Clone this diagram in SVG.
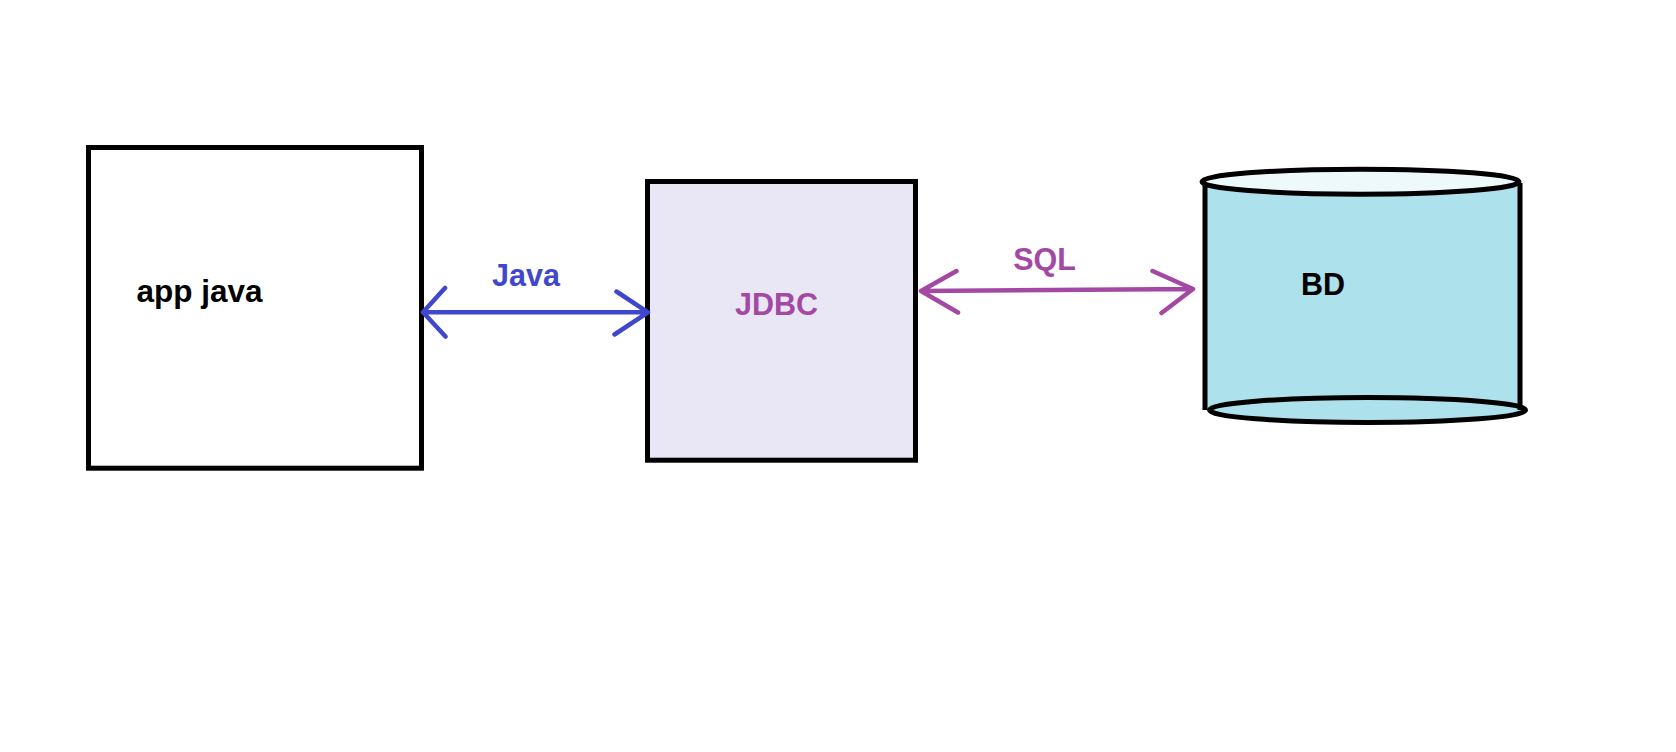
<svg xmlns="http://www.w3.org/2000/svg" width="1676" height="752" viewBox="0 0 1676 752">
<style>
.box{stroke:#000;stroke-width:5}
.lbl{font-family:"Liberation Sans",Arial,sans-serif;font-weight:bold;font-size:30.5px}
.java{stroke:#3F48CC;stroke-width:4.5;fill:none;stroke-linecap:round;stroke-linejoin:round}
.sql{stroke:#A349A4;stroke-width:4.5;fill:none;stroke-linecap:round;stroke-linejoin:round}
</style>
<rect width="1676" height="752" fill="#fff"/>
<g id="app">
<rect class="box" x="88.5" y="147.5" width="333" height="320.7" fill="#fff"/>
<text class="lbl" x="136.5" y="301.5" style="font-size:31.5px" fill="#000">app java</text>
</g>
<g id="jdbc">
<rect class="box" x="647.5" y="181.5" width="268" height="278.7" fill="#E9E7F6"/>
<text class="lbl" x="776.5" y="315" text-anchor="middle" fill="#A349A4">JDBC</text>
</g>
<g id="bd">
<rect x="1205" y="182" width="315" height="228" fill="#ADE1EC"/>
<ellipse class="box" cx="1367.5" cy="410" rx="158" ry="12.5" fill="#ADE1EC"/>
<path class="box" d="M1205,184 L1205,410 M1520,183 L1520,410" fill="none"/>
<ellipse class="box" cx="1360.5" cy="181.7" rx="158.5" ry="12.5" fill="#EEF9FB"/>
<text class="lbl" x="1301" y="294.5" fill="#000">BD</text>
</g>
<g id="connectors">
<path class="java" d="M423,312.3 L648,312.3 M445,288 L423,312.3 L445.5,336.5 M616.5,291.5 L648,312.3 L614.5,334.5"/>
<text class="lbl" x="526" y="286" text-anchor="middle" fill="#3F48CC">Java</text>
<path class="sql" d="M921,291 L1193,289 M956.5,271 L921,291 L958,312.5 M1152.5,271 L1193,289 L1161.5,313"/>
<text class="lbl" x="1044.5" y="270" text-anchor="middle" fill="#A349A4">SQL</text>
</g>
</svg>
